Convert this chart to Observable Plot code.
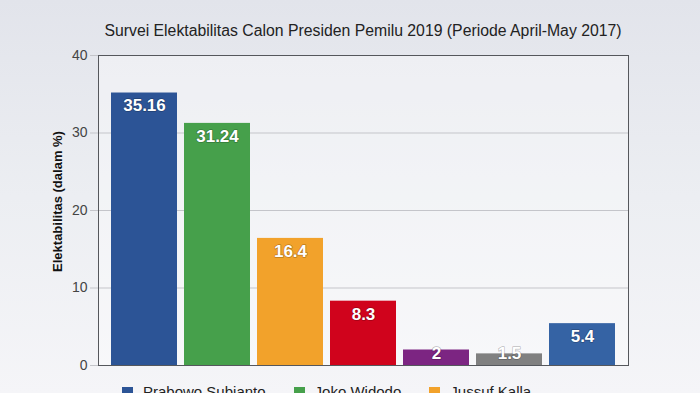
<!DOCTYPE html>
<html>
<head>
<meta charset="utf-8">
<script src="https://cdn.jsdelivr.net/npm/d3@7"></script>
<script src="https://cdn.jsdelivr.net/npm/@observablehq/plot@0.6"></script>
<style>
  html, body { margin: 0; padding: 0; }
  body {
    width: 700px; height: 393px; overflow: hidden;
    background: linear-gradient(to bottom, #e2e4eb 0%, #eceef2 50%, #f5f5f8 100%);
    font-family: "Liberation Sans", Arial, sans-serif;
  }
  #title {
    box-sizing: border-box; height: 45px; padding: 21px 72px 0 98px;
    text-align: center; font-size: 15.8px; color: #222; line-height: 20px;
  }
  #chart svg { display: block; overflow: visible; }
  #legend {
    display: flex; gap: 28px; padding: 9px 0 0 122px; font-size: 15px; color: #222;
  }
  #legend .item { display: flex; align-items: center; gap: 10px; line-height: 16px; }
  #legend .sw { width: 11px; height: 11px; }
</style>
</head>
<body>
<div id="title">Survei Elektabilitas Calon Presiden Pemilu 2019 (Periode April-May 2017)</div>
<div id="chart"></div>
<div id="legend"></div>
<script>
const candidates = ["Prabowo Subianto", "Joko Widodo", "Jussuf Kalla", "Kandidat 4", "Kandidat 5", "Kandidat 6", "Kandidat 7"];
const values = [35.16, 31.24, 16.4, 8.3, 2, 1.5, 5.4];
const labels = ["35.16", "31.24", "16.4", "8.3", "2", "1.5", "5.4"];
const colors = ["#2c5496", "#46a04b", "#f2a22b", "#d0031c", "#7c2582", "#808080", "#3563a4"];
const legendNames = ["Prabowo Subianto", "Joko Widodo", "Jussuf Kalla"];
const yTicks = [0, 10, 20, 30, 40];
const gridTicks = [10, 20, 30];

const data = candidates.map((c, i) => ({name: c, value: values[i], label: labels[i]}));

const chart = Plot.plot({
  width: 700,
  height: 330,
  marginLeft: 98,
  marginRight: 72,
  marginTop: 10,
  marginBottom: 10,
  style: {background: "transparent", fontFamily: "Liberation Sans, Arial, sans-serif"},
  x: {domain: candidates, paddingInner: 0.1, paddingOuter: 0.18, axis: null},
  y: {domain: [0, 40]},
  color: {domain: candidates, range: colors},
  marks: [
    Plot.frame({fill: "#ffffff", fillOpacity: 0.35, stroke: "none"}),
    Plot.gridY(gridTicks, {stroke: "#c4c5ca", strokeOpacity: 1}),
    Plot.axisY(yTicks, {tickSize: 8, tickPadding: 3, stroke: "#c4c5ca", fontSize: 14, color: "#444", label: null}),
    Plot.text(["Elektabilitas (dalam %)"], {frameAnchor: "left", textAnchor: "middle", rotate: -90, dx: -41, dy: -9, fontSize: 13, fontWeight: "bold", fill: "#111"}),
    Plot.barY(data, {x: "name", y: "value", fill: "name"}),
    Plot.text(data, {x: "name", y: d => Math.max(d.value, 3.2), text: "label", dy: 13, fill: "white", fontSize: 17, fontWeight: "bold", stroke: "#000", strokeOpacity: 0.25, strokeWidth: 1.5}),
    Plot.frame({stroke: "#55575c", strokeWidth: 1})
  ]
});
document.getElementById("chart").append(chart);

const legend = document.getElementById("legend");
legendNames.forEach(n => {
  const item = document.createElement("div");
  item.className = "item";
  const sw = document.createElement("span");
  sw.className = "sw";
  sw.style.background = colors[candidates.indexOf(n)];
  const t = document.createElement("span");
  t.textContent = n;
  item.append(sw, t);
  legend.append(item);
});
</script>
</body>
</html>
